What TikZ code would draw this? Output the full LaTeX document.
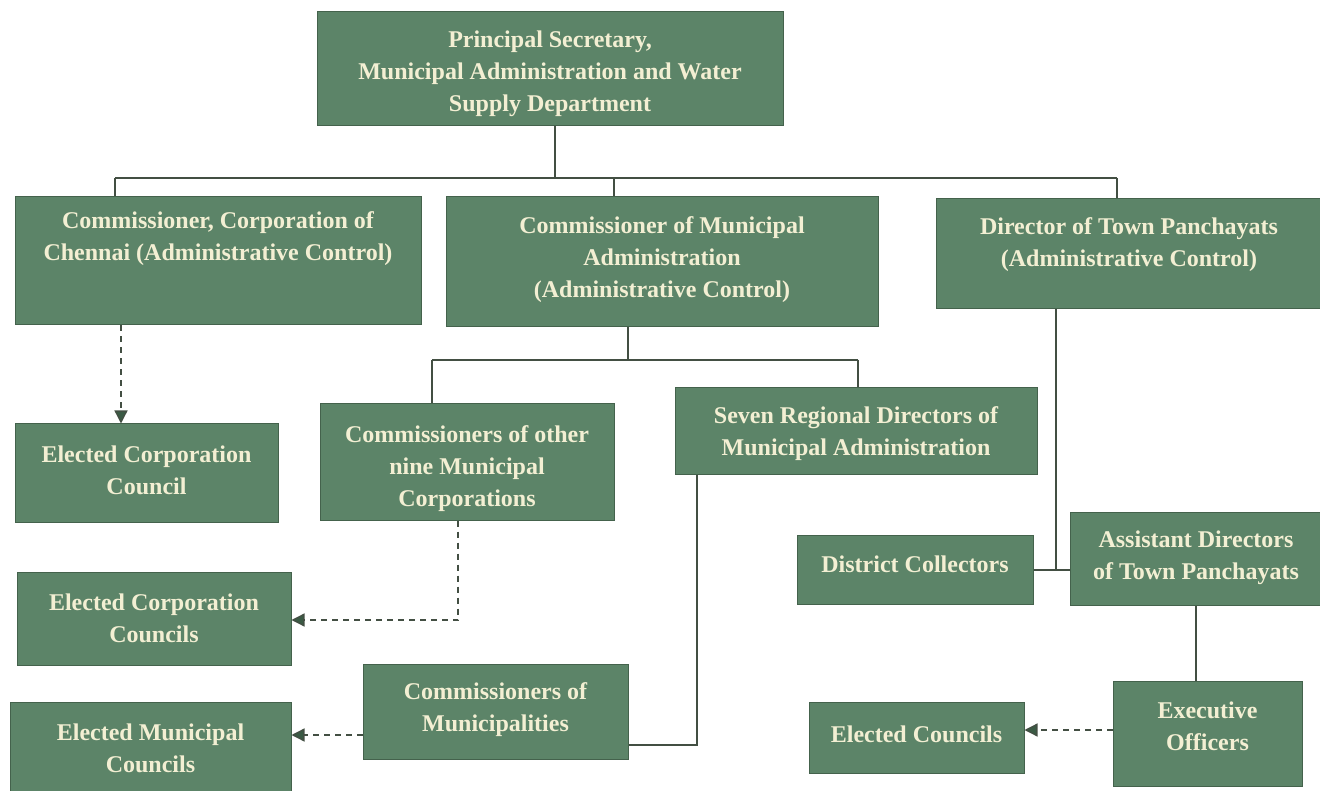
\documentclass[tikz,border=0pt]{standalone}
\usepackage{fontspec}
\setmainfont{Liberation Serif}
\usetikzlibrary{arrows.meta,calc}
\definecolor{boxgreen}{HTML}{5C8468}
\definecolor{boxedge}{HTML}{44624C}
\definecolor{cream}{HTML}{F3EFD3}
\definecolor{linecol}{HTML}{434F43}
\definecolor{arrowcol}{HTML}{3A5A44}
\tikzset{
 orgbox/.style={draw=boxedge, line width=1pt, fill=boxgreen, inner sep=0pt},
 orgtext/.style={text=cream, font=\fontsize{24}{32}\selectfont\bfseries, align=center, inner sep=0pt},
 conn/.style={draw=linecol, line width=1.3pt},
 dconn/.style={conn, dash pattern=on 6pt off 5pt, -{Triangle[length=13pt,width=13pt,fill=arrowcol]}}
}
\newcommand\orgnode[7]{%
 \node[orgbox, minimum width={(#4-#2)*1pt}, minimum height={(#5-#3)*1pt}] (#1) at ({(#2+#4)/2},{(#3+#5)/2}) {};
 \node[orgtext] (#1-t) at ({(#2+#4)/2},{#6+4}) {#7};
}
\begin{document}
\begin{tikzpicture}[x=1pt,y=-1pt]
\useasboundingbox (0,0) rectangle (1320,791);
\fill[white] (0,0) rectangle (1320,791);
\orgnode{ps}{317}{12}{783}{126}{70}{Principal Secretary,\\Municipal Administration and Water\\Supply Department}
\orgnode{cc}{15}{197}{421}{325}{235}{Commissioner, Corporation of\\Chennai (Administrative Control)}
\orgnode{cma}{446}{197}{878}{327}{256}{Commissioner of Municipal\\Administration\\(Administrative Control)}
\orgnode{dtp}{936}{199}{1322}{309}{241}{Director of Town Panchayats\\(Administrative Control)}
\orgnode{ecc}{15}{424}{278}{522}{466}{Elected Corporation\\Council}
\orgnode{nine}{320}{404}{614}{520}{465}{Commissioners of other\\nine Municipal\\Corporations}
\orgnode{seven}{675}{388}{1037}{474}{430}{Seven Regional Directors of\\Municipal Administration}
\orgnode{dc}{797}{535}{1033}{604}{560}{District Collectors}
\orgnode{asst}{1070}{512}{1322}{605}{554}{Assistant Directors\\of Town Panchayats}
\orgnode{exec}{1113}{681}{1302}{786}{722}{Executive\\Officers}
\orgnode{ec}{809}{702}{1024}{773}{730}{Elected Councils}
\orgnode{eccs}{17}{572}{291}{665}{614}{Elected Corporation\\Councils}
\orgnode{cm}{363}{664}{628}{759}{706}{Commissioners of\\Municipalities}
\orgnode{emc}{10}{702}{291}{795}{744}{Elected Municipal\\Councils}
% top level bus
\coordinate (bL) at (115,178);
\coordinate (bM) at (614,178);
\coordinate (bR) at (1117,178);
\draw[conn] ([xshift=5pt]ps.south) -- ([xshift=5pt]ps.south |- bL);
\draw[conn] (bL) -- (bR);
\draw[conn] (bL) -- (bL |- cc.north);
\draw[conn] (bM) -- (bM |- cma.north);
\draw[conn] (bR) -- (bR |- dtp.north);
% second bus
\coordinate (b2L) at (432,360);
\coordinate (b2M) at (628,360);
\coordinate (b2R) at (858,360);
\draw[conn] (b2M |- cma.south) -- (b2M);
\draw[conn] (b2L) -- (b2R);
\draw[conn] (b2L) -- (b2L |- nine.north);
\draw[conn] (b2R) -- (b2R |- seven.north);
% dashed links
\coordinate (d1) at (121,0);
\draw[dconn] (d1 |- cc.south) -- (d1 |- ecc.north);
\coordinate (d2) at (458,620);
\draw[dconn] (d2 |- nine.south) -- (d2) -- (d2 -| eccs.east);
\coordinate (d3) at (0,735);
\draw[dconn] (cm.west |- d3) -- (emc.east |- d3);
% regional to municipalities
\coordinate (s1) at (697,745);
\draw[conn] (s1 |- seven.south) -- (s1) -- (s1 -| cm.east);
% town panchayats
\coordinate (t1) at (1056,570);
\draw[conn] (t1 |- dtp.south) -- (t1);
\draw[conn] (t1 -| dc.east) -- (t1 -| asst.west);
\coordinate (t2) at (1196,0);
\draw[conn] (t2 |- asst.south) -- (t2 |- exec.north);
\coordinate (t3) at (0,730);
\draw[dconn] (exec.west |- t3) -- (ec.east |- t3);
\end{tikzpicture}
\end{document}
